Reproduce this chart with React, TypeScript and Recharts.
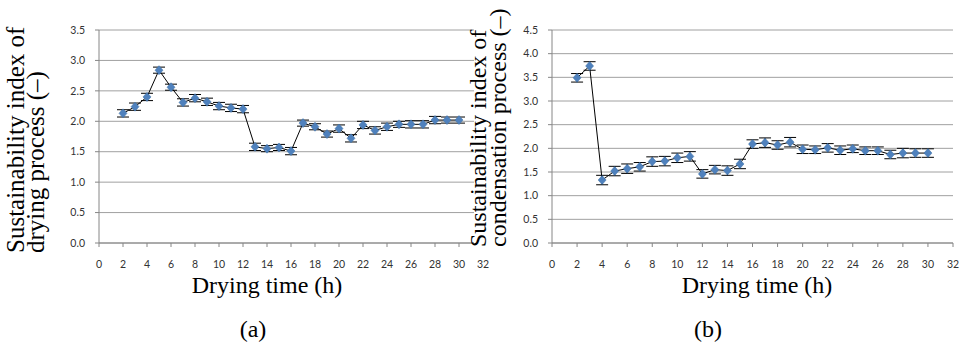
import React from "react";
import { LineChart, Line, XAxis, YAxis, CartesianGrid, ErrorBar } from "recharts";

const hours = [2, 3, 4, 5, 6, 7, 8, 9, 10, 11, 12, 13, 14, 15, 16, 17, 18, 19, 20, 21, 22, 23, 24, 25, 26, 27, 28, 29, 30];

// (a) drying process
const dryingIndex = [2.13, 2.24, 2.4, 2.84, 2.56, 2.31, 2.38, 2.32, 2.25, 2.22, 2.2, 1.58, 1.55, 1.57, 1.51, 1.97, 1.91, 1.79, 1.88, 1.72, 1.94, 1.85, 1.91, 1.95, 1.95, 1.95, 2.02, 2.02, 2.02];
const dryingErr = [0.06, 0.06, 0.06, 0.05, 0.05, 0.06, 0.06, 0.06, 0.06, 0.06, 0.06, 0.06, 0.05, 0.05, 0.06, 0.05, 0.05, 0.05, 0.06, 0.06, 0.06, 0.06, 0.06, 0.05, 0.06, 0.06, 0.06, 0.05, 0.05];

// (b) condensation process
const condIndex = [3.49, 3.74, 1.33, 1.52, 1.57, 1.61, 1.72, 1.73, 1.8, 1.83, 1.46, 1.55, 1.53, 1.67, 2.09, 2.12, 2.07, 2.13, 1.98, 1.97, 2.01, 1.96, 1.99, 1.95, 1.95, 1.87, 1.9, 1.9, 1.9];
const condErr = [0.09, 0.09, 0.1, 0.1, 0.1, 0.09, 0.1, 0.1, 0.1, 0.1, 0.09, 0.09, 0.1, 0.1, 0.09, 0.1, 0.09, 0.1, 0.09, 0.08, 0.09, 0.09, 0.08, 0.08, 0.08, 0.09, 0.1, 0.09, 0.09];

const xTicks = [0, 2, 4, 6, 8, 10, 12, 14, 16, 18, 20, 22, 24, 26, 28, 30, 32];
const yTicksA = [0, 0.5, 1, 1.5, 2, 2.5, 3, 3.5];
const yTicksB = [0, 0.5, 1, 1.5, 2, 2.5, 3, 3.5, 4, 4.5];

const BLUE = "#4F81BD";
const GRID = "#a0a0a0";
const AXIS = "#868686";
const SERIF = "'Liberation Serif', 'Times New Roman', serif";
const TICK_FONT = { fontSize: 10.5, fill: "#333", fontFamily: "Lato, 'Open Sans', sans-serif" };

const dataA = hours.map((h, i) => ({ h, v: dryingIndex[i], e: dryingErr[i] }));
const dataB = hours.map((h, i) => ({ h, v: condIndex[i], e: condErr[i] }));

const diamond = (p: any) => {
  const { cx, cy, index } = p;
  if (cx == null || cy == null) return <g key={index} />;
  return (
    <polygon
      key={index}
      points={`${cx},${cy - 4.5} ${cx + 4},${cy} ${cx},${cy + 4.5} ${cx - 4},${cy}`}
      fill={BLUE}
      stroke="#3a6ea5"
      strokeWidth={0.5}
    />
  );
};

// two-line rotated axis title, fixed in svg coordinates
const yTitle = (lines: string[], xs: number[], y: number, size: number) => () => (
  <g>
    {lines.map((t, i) => (
      <text
        key={i}
        x={xs[i]}
        y={y}
        transform={`rotate(-90, ${xs[i]}, ${y})`}
        textAnchor="start"
        fontFamily={SERIF}
        fontSize={size}
        fill="#000"
      >
        {t}
      </text>
    ))}
  </g>
);

const xTitle = (cx: number, caption: string, capX: number) => () => (
  <g>
    <text x={cx} y={293} textAnchor="middle" fontFamily={SERIF} fontSize={24} fill="#000">
      Drying time (h)
    </text>
    <text x={capX} y={337} textAnchor="middle" fontFamily={SERIF} fontSize={24} fill="#000">
      {caption}
    </text>
  </g>
);

function Panel(props: {
  data: any[];
  width: number;
  margin: any;
  yMax: number;
  yTicks: number[];
  yLabel: () => React.ReactNode;
  xLabel: () => React.ReactNode;
}) {
  const { data, width, margin, yMax, yTicks, yLabel, xLabel } = props;
  return (
    <LineChart width={width} height={347} data={data} margin={margin}>
      <CartesianGrid vertical={false} stroke={GRID} strokeWidth={1} />
      <XAxis
        type="number"
        dataKey="h"
        domain={[0, 32]}
        ticks={xTicks}
        interval={0}
        height={30}
        stroke={AXIS}
        tickSize={4}
        tickMargin={14}
        tick={TICK_FONT}
        label={{ content: xLabel }}
      />
      <YAxis
        type="number"
        domain={[0, yMax]}
        ticks={yTicks}
        interval={0}
        width={40}
        stroke={AXIS}
        tickSize={4}
        tickMargin={10}
        tick={TICK_FONT}
        tickFormatter={(v: number) => v.toFixed(1)}
        label={{ content: yLabel }}
      />
      <Line
        type="linear"
        dataKey="v"
        stroke="#000"
        strokeWidth={1}
        dot={diamond}
        activeDot={false}
        isAnimationActive={false}
      >
        <ErrorBar dataKey="e" width={6} stroke="#000" strokeWidth={1} direction="y" />
      </Line>
    </LineChart>
  );
}

export default function App() {
  return (
    <div style={{ position: "absolute", left: 0, top: 0, width: 967, height: 347, background: "#fff", overflow: "hidden" }}>
      <div style={{ position: "absolute", left: 0, top: 0 }}>
        <Panel
          data={dataA}
          width={490}
          margin={{ top: 30, right: 7, bottom: 74, left: 59 }}
          yMax={3.5}
          yTicks={yTicksA}
          yLabel={yTitle(["Sustainability index of", "drying process (\u2013)"], [24, 44], 253, 25)}
          xLabel={xTitle(267, "(a)", 253)}
        />
      </div>
      <div style={{ position: "absolute", left: 474, top: 0, width: 493, height: 250, background: "#fff" }} />
      <div style={{ position: "absolute", left: 454, top: 0 }}>
        <Panel
          data={dataB}
          width={513}
          margin={{ top: 30, right: 14, bottom: 74, left: 58 }}
          yMax={4.5}
          yTicks={yTicksB}
          yLabel={yTitle(["Sustainability index of", "condensation process (\u2013)"], [32, 52], 247, 24)}
          xLabel={xTitle(303, "(b)", 254)}
        />
      </div>
    </div>
  );
}
